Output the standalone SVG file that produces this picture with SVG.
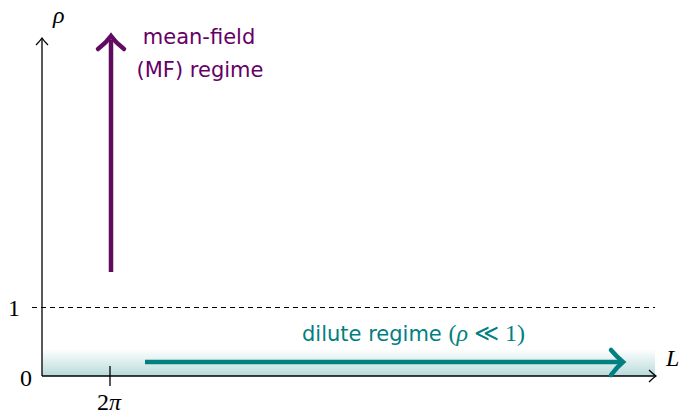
<svg xmlns="http://www.w3.org/2000/svg" width="683" height="417" viewBox="0 0 683 417">
<defs>
<linearGradient id="band" x1="0" y1="0" x2="0" y2="1">
<stop offset="0" stop-color="#ffffff"/>
<stop offset="1" stop-color="#b8dbdb"/>
</linearGradient>
<style>
.ax{stroke:#000;stroke-width:1.3;fill:none}
.math{font-family:"Liberation Serif","DejaVu Serif",serif;font-size:24px;fill:#000}
.it{font-style:italic}
.lbl{font-family:"DejaVu Sans","Liberation Sans",sans-serif;font-size:21px}
</style>
</defs>
<rect x="42" y="349" width="613" height="27" fill="url(#band)"/>
<g id="axes">
<line class="ax" x1="42" y1="376" x2="42" y2="39"/>
<path class="ax" d="M36,45 Q40,41 42,38 Q44,41 48,45"/>
<line class="ax" x1="42" y1="376" x2="655" y2="376"/>
<path class="ax" d="M649,370 Q653,374 656,376 Q653,378 649,382"/>
<line x1="32" y1="307.5" x2="655" y2="307.5" stroke="#000" stroke-width="1" stroke-dasharray="5,4"/>
<line class="ax" x1="110" y1="366" x2="110" y2="386"/>
</g>
<g id="labels">
<text class="math it" x="53" y="23">ρ</text>
<text class="math it" x="666" y="366">L</text>
<text class="math" x="20" y="386">0</text>
<text class="math" x="8" y="316">1</text>
<text class="math" x="97" y="410" font-size="23">2<tspan class="it">π</tspan></text>
</g>
<g id="connectors">
<g id="mf-arrow">
<line x1="111" y1="272" x2="111" y2="40" stroke="#600a60" stroke-width="4.5"/>
<path d="M98,49 Q106,43 111,36 Q116,43 124,49" fill="none" stroke="#600a60" stroke-width="4.5" stroke-linecap="round"/>
</g>
<g id="dilute-arrow">
<line x1="145" y1="362" x2="620" y2="362" stroke="#008080" stroke-width="4.5"/>
<path d="M611,350 Q617,357 623,362 Q617,367 611,375" fill="none" stroke="#008080" stroke-width="4.5" stroke-linecap="round"/>
</g>
</g>
<g id="mf-label" fill="#660066" class="lbl">
<text x="199" y="44" text-anchor="middle">mean-field</text>
<text x="200" y="77" text-anchor="middle">(MF) regime</text>
</g>
<g id="dilute-label" fill="#008080">
<text class="lbl" x="302" y="341">dilute regime <tspan font-family="Liberation Serif,serif" font-size="24">(<tspan font-style="italic">ρ</tspan> ≪ 1)</tspan></text>
</g>
</svg>
